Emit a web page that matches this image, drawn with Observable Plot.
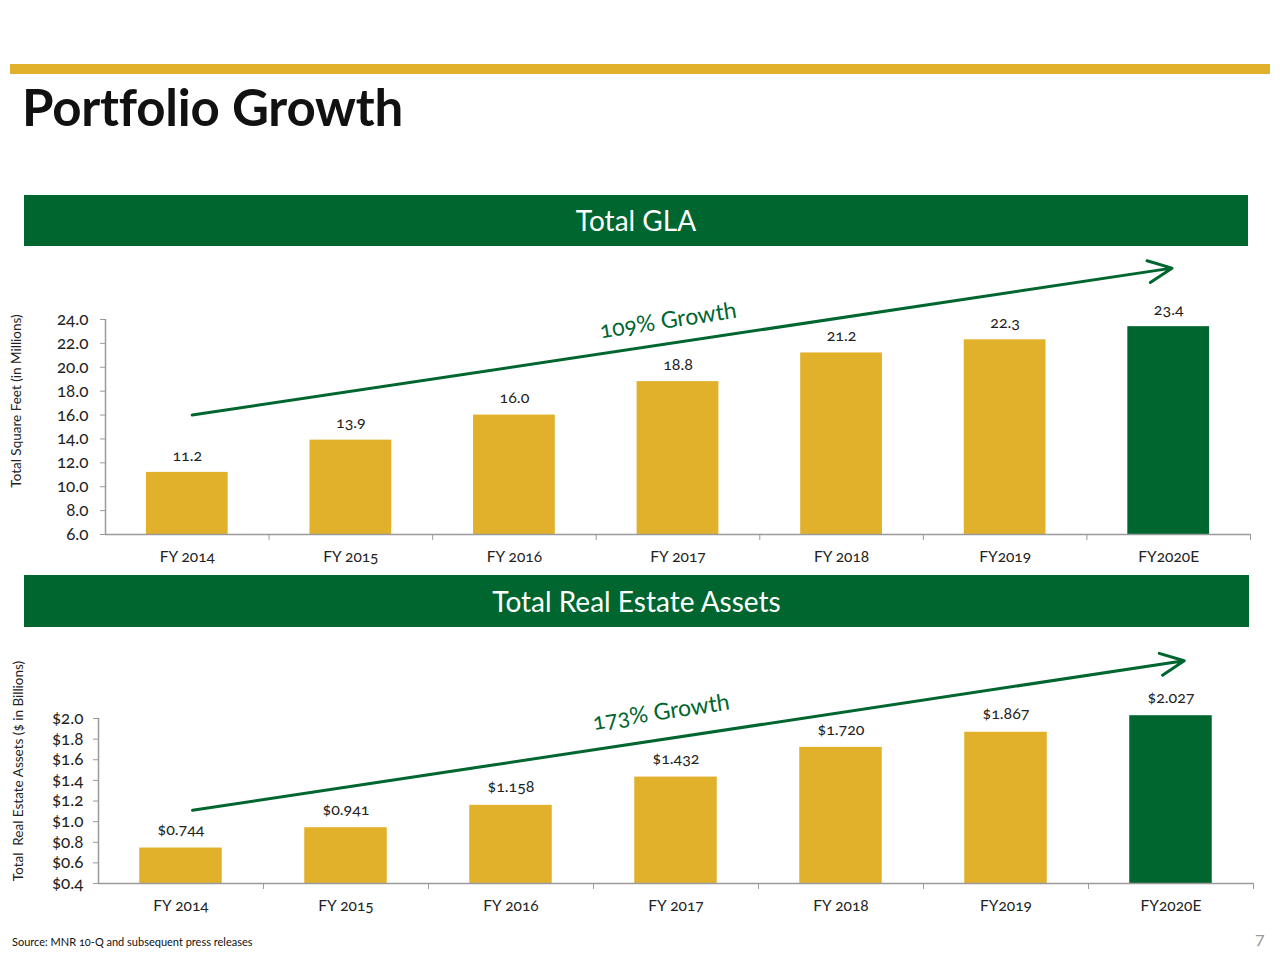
<!DOCTYPE html>
<html>
<head>
<meta charset="utf-8">
<script src="https://cdn.jsdelivr.net/npm/d3@7"></script>
<script src="https://cdn.jsdelivr.net/npm/@observablehq/plot@0.6"></script>
<style>
  html, body { margin: 0; padding: 0; background: #fff; }
  body { width: 1280px; height: 960px; position: relative; overflow: hidden;
         font-family: Lato, "Open Sans", sans-serif; color: #111;
         font-variant-numeric: oldstyle-nums; }
  .abs { position: absolute; }
  .topbar { left: 10px; top: 64px; width: 1260px; height: 10px; background: #E1B12C; }
  .title { left: 22px; top: 76px; font-size: 51px; font-weight: 700; color: #111; letter-spacing: -0.2px; }
  .band { background: #00662F; color: #fff; text-align: center; font-size: 28px; }
  .ylab { font-size: 13.5px; color: #222; transform: rotate(-90deg); transform-origin: center center; white-space: nowrap; text-align: center; }
  .src { left: 12px; top: 935px; font-size: 11px; color: #111; }
  .page { left: 1255px; top: 927px; font-size: 18px; color: #999; }
  svg { font-family: Lato, "Open Sans", sans-serif; font-variant-numeric: oldstyle-nums; }
</style>
</head>
<body>
<div class="abs topbar"></div>
<div class="abs title">Portfolio Growth</div>
<div class="abs band" style="left:24px;top:195px;width:1224px;height:51px;line-height:51px;">Total GLA</div>
<div class="abs band" style="left:24px;top:575px;width:1225px;height:52px;line-height:52px;">Total Real Estate Assets</div>
<div class="abs ylab" style="left:-84px;top:393px;width:200px;">Total Square Feet (in Millions)</div>
<div class="abs ylab" style="left:-102px;top:763px;width:240px;">Total&nbsp; Real Estate Assets ($ in Billions)</div>
<div class="abs src">Source: MNR 10-Q and subsequent press releases</div>
<div class="abs page">7</div>
<div id="c1" class="abs" style="left:0;top:255px;"></div>
<div id="c2" class="abs" style="left:0;top:640px;"></div>
<script>
// ---- data ----
const categories = ["FY 2014", "FY 2015", "FY 2016", "FY 2017", "FY 2018", "FY2019", "FY2020E"];
const isEstimate = [false, false, false, false, false, false, true];
const glaValues = [11.2, 13.9, 16.0, 18.8, 21.2, 22.3, 23.4];
const glaLabels = ["11.2", "13.9", "16.0", "18.8", "21.2", "22.3", "23.4"];
const glaTicks = [6, 8, 10, 12, 14, 16, 18, 20, 22, 24];
const assetValues = [0.744, 0.941, 1.158, 1.432, 1.720, 1.867, 2.027];
const assetLabels = ["$0.744", "$0.941", "$1.158", "$1.432", "$1.720", "$1.867", "$2.027"];
const assetTicks = [0.4, 0.6, 0.8, 1.0, 1.2, 1.4, 1.6, 1.8, 2.0];
// growth arrows: [x index start, value start, x index end, value end]
const glaArrow = [0.03, 16.0, 6.02, 28.3];
const assetArrow = [0.07, 1.11, 6.08, 2.56];
const glaGrowth = ["109% Growth", 2.94, 23.9];
const assetGrowth = ["173% Growth", 2.91, 2.06];

const GOLD = "#E1B12C", GREEN = "#00662F", AX = "#9a9a9a";
const FV = "oldstyle-nums";

function build(values, labels, ticks, base, top, arrow, growth, fmt, opts) {
  const data = categories.map((c, i) => ({i, c, v: values[i], label: labels[i], est: isEstimate[i]}));
  const idx = categories.map((_, i) => i);
  const bounds = categories.map((_, i) => i + 0.5);
  return Plot.plot({
    width: 1280,
    height: opts.height,
    marginLeft: opts.ml,
    marginRight: opts.mr,
    marginTop: opts.mt,
    marginBottom: opts.mb,
    style: {fontSize: "15px", color: "#222", background: "transparent"},
    x: {type: "linear", domain: [-0.5, 6.5], axis: null},
    y: {domain: [base, top], axis: null},
    marks: [
      Plot.rectY(data, {x1: d => d.i - 0.25, x2: d => d.i + 0.25, y1: base, y2: "v",
        fill: d => d.est ? GREEN : GOLD}),
      Plot.text(data, {x: "i", y: "v", text: "label", dy: opts.ldy, fontSize: 16, fill: "#222", fontVariant: FV}),
      Plot.ruleY([base], {stroke: AX, strokeWidth: 1.5}),
      Plot.ruleX([-0.5], {y1: base, y2: top, stroke: AX, strokeWidth: 1.5}),
      Plot.axisY({ticks, tickSize: 5, tickPadding: opts.tp, tickFormat: fmt, stroke: AX, fill: "#222", fontSize: 17, fontVariant: FV, label: null}),
      Plot.axisX({ticks: bounds, tickSize: 6, tickFormat: () => "", stroke: AX, label: null}),
      Plot.axisX({ticks: idx, tickSize: 0, tickPadding: 16, tickFormat: i => categories[i], fill: "#222", fontSize: 15.5, fontVariant: FV, label: null}),
      Plot.arrow([arrow], {x1: d => d[0], y1: d => d[1], x2: d => d[2], y2: d => d[3],
        stroke: GREEN, strokeWidth: 3, headLength: 13, headAngle: 50}),
      Plot.text([growth], {x: d => d[1], y: d => d[2], text: d => d[0], rotate: -8.6,
        fontSize: 23, fill: GREEN, fontVariant: FV})
    ]
  });
}

document.getElementById("c1").append(build(glaValues, glaLabels, glaTicks, 6, 24, glaArrow, glaGrowth,
  d => d.toFixed(1), {height: 319, ml: 105, mr: 30, mt: 64, mb: 40, ldy: -17, tp: 12}));
document.getElementById("c2").append(build(assetValues, assetLabels, assetTicks, 0.4, 2.0, assetArrow, assetGrowth,
  d => "$" + d.toFixed(1), {height: 283, ml: 98, mr: 27, mt: 78, mb: 40, ldy: -18, tp: 10}));
</script>
</body>
</html>
